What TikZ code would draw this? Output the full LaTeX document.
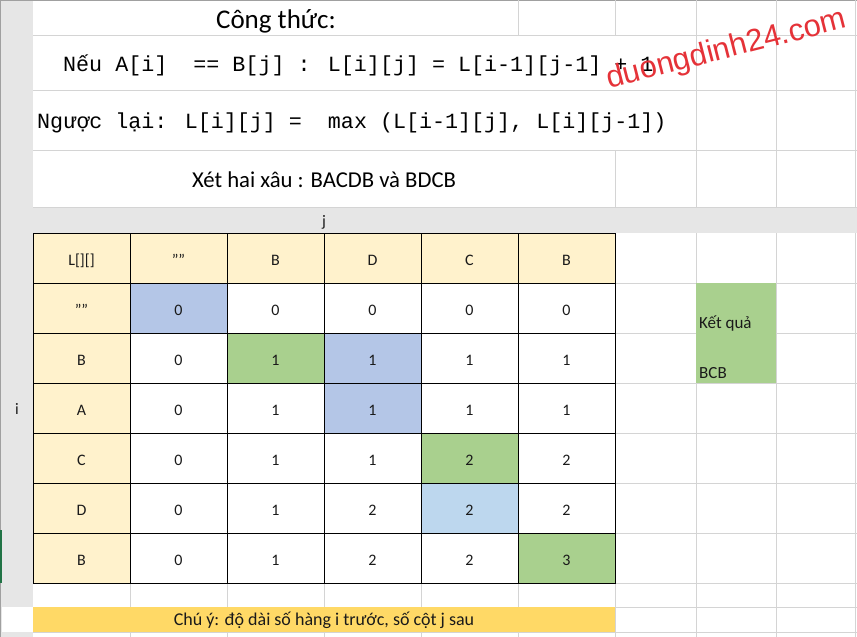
\documentclass[tikz,border=0pt]{standalone}
\usepackage{fontspec}
\setmainfont{Carlito}
\newfontfamily\monof{Liberation Mono}
\newfontfamily\wmf{Liberation Sans}
\definecolor{hdr}{HTML}{FFF2CC}
\definecolor{blu}{HTML}{B4C6E7}
\definecolor{lblu}{HTML}{BDD7EE}
\definecolor{grn}{HTML}{A9D08E}
\definecolor{ftr}{HTML}{FFD966}
\definecolor{stripc}{HTML}{E6E6E6}
\definecolor{gridc}{HTML}{D4D4D4}
\definecolor{edgec}{HTML}{A0A0A0}
\definecolor{selg}{HTML}{217346}
\definecolor{wmc}{HTML}{E53238}
\definecolor{txt}{HTML}{1A1A1A}
\tikzset{
  grid/.style={draw=gridc,line width=0.8pt},
  cell/.style={draw=black,line width=0.9pt,minimum width=97pt,minimum height=50pt,inner sep=0pt,
    font=\fontsize{16}{16}\selectfont,text=txt,text height=14.5pt,text depth=0pt},
  hcell/.style={cell,fill=hdr},
  plain/.style={inner sep=0pt,text=black},
}
\begin{document}
\begin{tikzpicture}[x=1pt,y=-1pt]
\useasboundingbox (0,0) rectangle (857,637);
\fill[white] (0,0) rectangle (857,637);
% left strip and gray band
\fill[stripc] (0,0) rectangle (33,637);
\fill[white] (2,607) rectangle (33,632);
\fill[stripc] (0,207) rectangle (857,233);
\draw[edgec,line width=1pt] (0.5,0) -- (0.5,637);
\draw[selg,line width=1.6pt] (0.8,530) -- (0.8,583);
\draw[edgec,line width=1pt] (0,0.5) -- (857,0.5);
% horizontal gridlines
\foreach \y in {35,90,150,207} \draw[grid] (33,\y) -- (857,\y);
\foreach \y in {283,383,433,483,533,583} \draw[grid] (615,\y) -- (857,\y);
\draw[grid] (615,333) -- (696,333) (776,333) -- (857,333);
\foreach \y in {607,632} \draw[grid] (33,\y) -- (857,\y);
% vertical gridlines
\foreach \x in {518,615} \draw[grid] (\x,0) -- (\x,35);
\foreach \x in {696,776,855} \draw[grid] (\x,0) -- (\x,207) (\x,233) -- (\x,637);
\draw[grid] (615,150) -- (615,207) (615,583) -- (615,637);
\foreach \x in {130,227,324,421,518} \draw[grid] (\x,583) -- (\x,607) (\x,632) -- (\x,637);
% header texts
\node[plain,anchor=base,font=\fontsize{27}{27}\selectfont] (title) at (276,28) {Công thức:};
\node[plain,anchor=base west,font=\monof\fontsize{21.7}{21.7}\selectfont] (rule1) at (63,71)
  {Nếu A[i]\ \ == B[j] : L[i][j] = L[i-1][j-1] + 1};
\node[plain,anchor=base west,font=\monof\fontsize{21.7}{21.7}\selectfont] (rule2) at (37,128)
  {Ngược lại: L[i][j] =\ \ max (L[i-1][j], L[i][j-1])};
\node[plain,anchor=base,font=\fontsize{22.7}{22.7}\selectfont] (strs) at (324,187)
  {Xét hai xâu : BACDB và BDCB};
\node[plain,anchor=base,font=\fontsize{16}{16}\selectfont,text=txt] (jlab) at (324,226) {j};
\node[plain,anchor=base,font=\fontsize{16}{16}\selectfont,text=txt] (ilab) at (17,414) {i};
% table header row
\foreach \h [count=\c from 0] in {L[][],"",B,D,C,B}
  \node[hcell] (t-0-\c) at ({33+97*\c+48.5},258) {\h};
% table body
\foreach \r/\lab/\vals in {
  1/""/{0/blu,0/white,0/white,0/white,0/white},
  2/B/{0/white,1/grn,1/blu,1/white,1/white},
  3/A/{0/white,1/white,1/blu,1/white,1/white},
  4/C/{0/white,1/white,1/white,2/grn,2/white},
  5/D/{0/white,1/white,2/white,2/lblu,2/white},
  6/B/{0/white,1/white,2/white,2/white,3/grn}}{
  \node[hcell] (t-\r-0) at (81.5,{233+50*\r+25}) {\lab};
  \foreach \v/\col [count=\c] in \vals
    \node[cell,fill=\col] (t-\r-\c) at ({33+97*\c+48.5},{233+50*\r+25}) {\v};
}
% result cell
\node[fill=grn,minimum width=80pt,minimum height=100pt,inner sep=0pt] (res) at (736,333) {};
\node[plain,anchor=base west,font=\fontsize{17}{17}\selectfont,text=txt] (reslab) at (699,328) {Kết quả};
\node[plain,anchor=base west,font=\fontsize{17}{17}\selectfont,text=txt] (resval) at (699,378) {BCB};
% footer
\node[fill=ftr,minimum width=582pt,minimum height=25pt,inner sep=0pt] (note) at (324,619.5) {};
\node[plain,anchor=base,font=\fontsize{18}{18}\selectfont,text=txt] (notetext) at (324,625)
  {Chú ý: độ dài số hàng i trước, số cột j sau};
% watermark
\node[plain,anchor=base,rotate=14.3,text=wmc,font=\wmf\fontsize{31}{31}\selectfont] (wm) at (728.5,58)
  {duongdinh24.com};
\end{tikzpicture}
\end{document}
